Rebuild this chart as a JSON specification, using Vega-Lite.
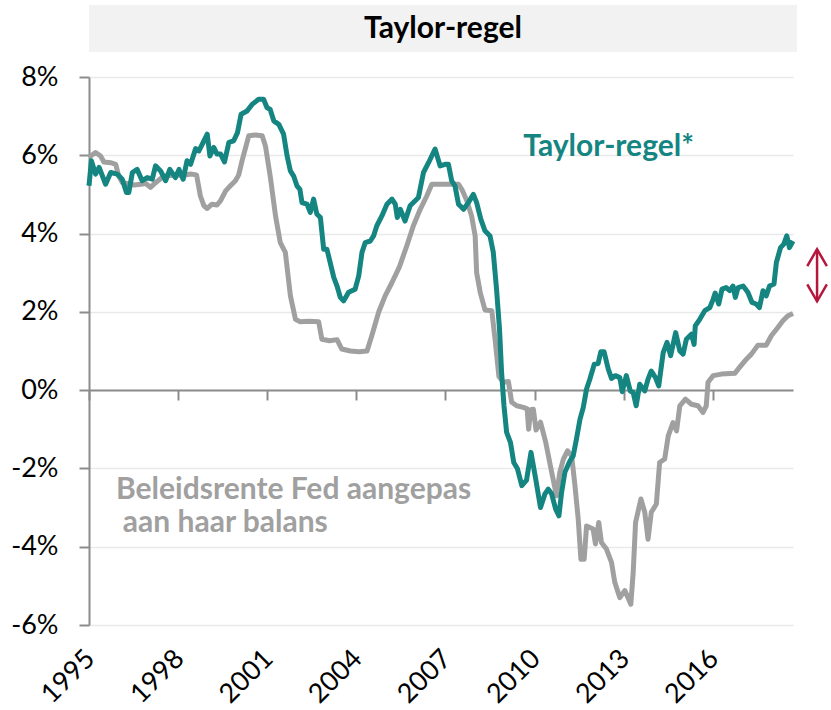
{
  "$schema": "https://vega.github.io/schema/vega-lite/v6.json",
  "padding": {"left": 10, "top": 5, "right": 0, "bottom": 0},
  "background": "white",
  "spacing": 11,
  "config": {"view": {"stroke": null}, "font": "Lato"},
  "datasets": {
    "series": [
      {"s":"Fed","t":1995.0,"v":5.95},{"s":"Fed","t":1995.22,"v":6.07},{"s":"Fed","t":1995.39,"v":5.98},{"s":"Fed","t":1995.5,"v":5.83},{"s":"Fed","t":1995.73,"v":5.81},{"s":"Fed","t":1995.9,"v":5.77},{"s":"Fed","t":1996.0,"v":5.47},{"s":"Fed","t":1996.12,"v":5.3},{"s":"Fed","t":1996.29,"v":5.28},{"s":"Fed","t":1996.51,"v":5.24},{"s":"Fed","t":1996.74,"v":5.26},{"s":"Fed","t":1996.91,"v":5.28},{"s":"Fed","t":1997.07,"v":5.18},{"s":"Fed","t":1997.24,"v":5.3},{"s":"Fed","t":1997.52,"v":5.47},{"s":"Fed","t":1997.86,"v":5.49},{"s":"Fed","t":1998.19,"v":5.49},{"s":"Fed","t":1998.42,"v":5.52},{"s":"Fed","t":1998.62,"v":5.5},{"s":"Fed","t":1998.75,"v":4.96},{"s":"Fed","t":1998.87,"v":4.71},{"s":"Fed","t":1998.98,"v":4.64},{"s":"Fed","t":1999.14,"v":4.75},{"s":"Fed","t":1999.31,"v":4.73},{"s":"Fed","t":1999.43,"v":4.84},{"s":"Fed","t":1999.6,"v":5.09},{"s":"Fed","t":1999.76,"v":5.22},{"s":"Fed","t":1999.93,"v":5.35},{"s":"Fed","t":2000.04,"v":5.5},{"s":"Fed","t":2000.15,"v":5.85},{"s":"Fed","t":2000.38,"v":6.5},{"s":"Fed","t":2000.6,"v":6.52},{"s":"Fed","t":2000.83,"v":6.5},{"s":"Fed","t":2000.94,"v":6.24},{"s":"Fed","t":2001.1,"v":5.47},{"s":"Fed","t":2001.28,"v":4.45},{"s":"Fed","t":2001.44,"v":3.77},{"s":"Fed","t":2001.61,"v":3.52},{"s":"Fed","t":2001.78,"v":2.41},{"s":"Fed","t":2001.95,"v":1.81},{"s":"Fed","t":2002.1,"v":1.75},{"s":"Fed","t":2002.4,"v":1.76},{"s":"Fed","t":2002.73,"v":1.75},{"s":"Fed","t":2002.84,"v":1.3},{"s":"Fed","t":2003.1,"v":1.26},{"s":"Fed","t":2003.35,"v":1.29},{"s":"Fed","t":2003.51,"v":1.05},{"s":"Fed","t":2003.8,"v":1.0},{"s":"Fed","t":2004.1,"v":0.98},{"s":"Fed","t":2004.36,"v":1.0},{"s":"Fed","t":2004.52,"v":1.39},{"s":"Fed","t":2004.75,"v":1.99},{"s":"Fed","t":2004.97,"v":2.41},{"s":"Fed","t":2005.2,"v":2.75},{"s":"Fed","t":2005.45,"v":3.15},{"s":"Fed","t":2005.7,"v":3.69},{"s":"Fed","t":2005.92,"v":4.2},{"s":"Fed","t":2006.15,"v":4.62},{"s":"Fed","t":2006.37,"v":4.96},{"s":"Fed","t":2006.54,"v":5.26},{"s":"Fed","t":2006.8,"v":5.26},{"s":"Fed","t":2007.1,"v":5.26},{"s":"Fed","t":2007.44,"v":5.26},{"s":"Fed","t":2007.55,"v":5.13},{"s":"Fed","t":2007.72,"v":4.84},{"s":"Fed","t":2007.88,"v":4.45},{"s":"Fed","t":2008.0,"v":3.94},{"s":"Fed","t":2008.05,"v":3.0},{"s":"Fed","t":2008.17,"v":2.5},{"s":"Fed","t":2008.33,"v":2.05},{"s":"Fed","t":2008.56,"v":2.03},{"s":"Fed","t":2008.67,"v":1.3},{"s":"Fed","t":2008.8,"v":0.35},{"s":"Fed","t":2008.95,"v":0.2},{"s":"Fed","t":2009.12,"v":0.22},{"s":"Fed","t":2009.23,"v":-0.31},{"s":"Fed","t":2009.4,"v":-0.4},{"s":"Fed","t":2009.62,"v":-0.44},{"s":"Fed","t":2009.75,"v":-0.48},{"s":"Fed","t":2009.8,"v":-1.0},{"s":"Fed","t":2009.87,"v":-0.5},{"s":"Fed","t":2009.96,"v":-0.49},{"s":"Fed","t":2010.05,"v":-1.02},{"s":"Fed","t":2010.2,"v":-0.82},{"s":"Fed","t":2010.38,"v":-1.35},{"s":"Fed","t":2010.55,"v":-2.0},{"s":"Fed","t":2010.74,"v":-2.7},{"s":"Fed","t":2010.85,"v":-2.1},{"s":"Fed","t":2010.97,"v":-1.76},{"s":"Fed","t":2011.11,"v":-1.55},{"s":"Fed","t":2011.25,"v":-1.68},{"s":"Fed","t":2011.36,"v":-2.44},{"s":"Fed","t":2011.47,"v":-3.3},{"s":"Fed","t":2011.56,"v":-4.32},{"s":"Fed","t":2011.67,"v":-4.32},{"s":"Fed","t":2011.75,"v":-3.47},{"s":"Fed","t":2011.97,"v":-3.55},{"s":"Fed","t":2012.05,"v":-3.93},{"s":"Fed","t":2012.16,"v":-3.38},{"s":"Fed","t":2012.25,"v":-3.89},{"s":"Fed","t":2012.42,"v":-4.06},{"s":"Fed","t":2012.59,"v":-4.4},{"s":"Fed","t":2012.7,"v":-4.91},{"s":"Fed","t":2012.87,"v":-5.3},{"s":"Fed","t":2013.04,"v":-5.12},{"s":"Fed","t":2013.24,"v":-5.47},{"s":"Fed","t":2013.32,"v":-4.66},{"s":"Fed","t":2013.4,"v":-3.38},{"s":"Fed","t":2013.58,"v":-2.78},{"s":"Fed","t":2013.71,"v":-3.12},{"s":"Fed","t":2013.82,"v":-3.81},{"s":"Fed","t":2013.93,"v":-3.12},{"s":"Fed","t":2014.1,"v":-2.91},{"s":"Fed","t":2014.21,"v":-1.85},{"s":"Fed","t":2014.38,"v":-1.76},{"s":"Fed","t":2014.5,"v":-1.17},{"s":"Fed","t":2014.66,"v":-0.83},{"s":"Fed","t":2014.78,"v":-1.04},{"s":"Fed","t":2014.89,"v":-0.4},{"s":"Fed","t":2015.08,"v":-0.23},{"s":"Fed","t":2015.28,"v":-0.36},{"s":"Fed","t":2015.5,"v":-0.4},{"s":"Fed","t":2015.67,"v":-0.57},{"s":"Fed","t":2015.78,"v":-0.4},{"s":"Fed","t":2015.84,"v":0.2},{"s":"Fed","t":2016.01,"v":0.37},{"s":"Fed","t":2016.29,"v":0.41},{"s":"Fed","t":2016.74,"v":0.43},{"s":"Fed","t":2016.9,"v":0.58},{"s":"Fed","t":2017.13,"v":0.79},{"s":"Fed","t":2017.3,"v":0.92},{"s":"Fed","t":2017.52,"v":1.15},{"s":"Fed","t":2017.8,"v":1.15},{"s":"Fed","t":2017.97,"v":1.39},{"s":"Fed","t":2018.19,"v":1.6},{"s":"Fed","t":2018.36,"v":1.77},{"s":"Fed","t":2018.53,"v":1.9},{"s":"Fed","t":2018.7,"v":1.96},
      {"s":"Taylor","t":1995.0,"v":5.22},{"s":"Taylor","t":1995.08,"v":5.86},{"s":"Taylor","t":1995.22,"v":5.52},{"s":"Taylor","t":1995.34,"v":5.69},{"s":"Taylor","t":1995.56,"v":5.26},{"s":"Taylor","t":1995.73,"v":5.56},{"s":"Taylor","t":1995.95,"v":5.52},{"s":"Taylor","t":1996.12,"v":5.39},{"s":"Taylor","t":1996.26,"v":5.05},{"s":"Taylor","t":1996.34,"v":5.05},{"s":"Taylor","t":1996.46,"v":5.56},{"s":"Taylor","t":1996.62,"v":5.64},{"s":"Taylor","t":1996.79,"v":5.35},{"s":"Taylor","t":1996.96,"v":5.43},{"s":"Taylor","t":1997.13,"v":5.39},{"s":"Taylor","t":1997.24,"v":5.73},{"s":"Taylor","t":1997.41,"v":5.6},{"s":"Taylor","t":1997.58,"v":5.35},{"s":"Taylor","t":1997.72,"v":5.64},{"s":"Taylor","t":1997.91,"v":5.43},{"s":"Taylor","t":1998.03,"v":5.64},{"s":"Taylor","t":1998.17,"v":5.39},{"s":"Taylor","t":1998.3,"v":5.86},{"s":"Taylor","t":1998.42,"v":5.77},{"s":"Taylor","t":1998.59,"v":6.17},{"s":"Taylor","t":1998.7,"v":6.11},{"s":"Taylor","t":1998.81,"v":6.28},{"s":"Taylor","t":1998.98,"v":6.54},{"s":"Taylor","t":1999.07,"v":5.98},{"s":"Taylor","t":1999.2,"v":6.2},{"s":"Taylor","t":1999.31,"v":6.03},{"s":"Taylor","t":1999.43,"v":6.03},{"s":"Taylor","t":1999.56,"v":5.83},{"s":"Taylor","t":1999.71,"v":6.33},{"s":"Taylor","t":1999.87,"v":6.37},{"s":"Taylor","t":2000.0,"v":6.58},{"s":"Taylor","t":2000.12,"v":7.05},{"s":"Taylor","t":2000.32,"v":7.13},{"s":"Taylor","t":2000.49,"v":7.3},{"s":"Taylor","t":2000.71,"v":7.43},{"s":"Taylor","t":2000.88,"v":7.43},{"s":"Taylor","t":2000.99,"v":7.22},{"s":"Taylor","t":2001.1,"v":7.17},{"s":"Taylor","t":2001.22,"v":6.88},{"s":"Taylor","t":2001.39,"v":6.79},{"s":"Taylor","t":2001.55,"v":6.54},{"s":"Taylor","t":2001.67,"v":5.98},{"s":"Taylor","t":2001.78,"v":5.6},{"s":"Taylor","t":2001.89,"v":5.47},{"s":"Taylor","t":2002.0,"v":5.22},{"s":"Taylor","t":2002.1,"v":5.13},{"s":"Taylor","t":2002.17,"v":4.79},{"s":"Taylor","t":2002.34,"v":4.75},{"s":"Taylor","t":2002.45,"v":4.54},{"s":"Taylor","t":2002.56,"v":4.88},{"s":"Taylor","t":2002.67,"v":4.5},{"s":"Taylor","t":2002.79,"v":4.41},{"s":"Taylor","t":2002.9,"v":3.6},{"s":"Taylor","t":2003.01,"v":3.6},{"s":"Taylor","t":2003.12,"v":3.26},{"s":"Taylor","t":2003.24,"v":2.88},{"s":"Taylor","t":2003.35,"v":2.66},{"s":"Taylor","t":2003.46,"v":2.37},{"s":"Taylor","t":2003.57,"v":2.28},{"s":"Taylor","t":2003.74,"v":2.5},{"s":"Taylor","t":2003.96,"v":2.58},{"s":"Taylor","t":2004.08,"v":2.92},{"s":"Taylor","t":2004.19,"v":3.52},{"s":"Taylor","t":2004.3,"v":3.77},{"s":"Taylor","t":2004.47,"v":3.81},{"s":"Taylor","t":2004.58,"v":3.94},{"s":"Taylor","t":2004.69,"v":4.2},{"s":"Taylor","t":2004.86,"v":4.45},{"s":"Taylor","t":2005.03,"v":4.75},{"s":"Taylor","t":2005.2,"v":4.88},{"s":"Taylor","t":2005.31,"v":4.75},{"s":"Taylor","t":2005.38,"v":4.41},{"s":"Taylor","t":2005.48,"v":4.62},{"s":"Taylor","t":2005.64,"v":4.32},{"s":"Taylor","t":2005.81,"v":4.71},{"s":"Taylor","t":2005.98,"v":4.84},{"s":"Taylor","t":2006.09,"v":4.92},{"s":"Taylor","t":2006.26,"v":5.56},{"s":"Taylor","t":2006.43,"v":5.81},{"s":"Taylor","t":2006.65,"v":6.16},{"s":"Taylor","t":2006.82,"v":5.73},{"s":"Taylor","t":2006.99,"v":5.77},{"s":"Taylor","t":2007.1,"v":5.77},{"s":"Taylor","t":2007.21,"v":5.35},{"s":"Taylor","t":2007.32,"v":5.22},{"s":"Taylor","t":2007.44,"v":4.75},{"s":"Taylor","t":2007.61,"v":4.62},{"s":"Taylor","t":2007.77,"v":4.79},{"s":"Taylor","t":2007.94,"v":5.0},{"s":"Taylor","t":2008.05,"v":4.79},{"s":"Taylor","t":2008.19,"v":4.37},{"s":"Taylor","t":2008.33,"v":4.07},{"s":"Taylor","t":2008.5,"v":3.94},{"s":"Taylor","t":2008.61,"v":3.52},{"s":"Taylor","t":2008.72,"v":2.58},{"s":"Taylor","t":2008.82,"v":1.56},{"s":"Taylor","t":2008.89,"v":0.45},{"s":"Taylor","t":2008.97,"v":-0.4},{"s":"Taylor","t":2009.06,"v":-1.08},{"s":"Taylor","t":2009.19,"v":-1.34},{"s":"Taylor","t":2009.3,"v":-1.85},{"s":"Taylor","t":2009.42,"v":-2.0},{"s":"Taylor","t":2009.57,"v":-2.44},{"s":"Taylor","t":2009.73,"v":-2.3},{"s":"Taylor","t":2009.88,"v":-1.59},{"s":"Taylor","t":2010.04,"v":-2.28},{"s":"Taylor","t":2010.2,"v":-3.0},{"s":"Taylor","t":2010.35,"v":-2.65},{"s":"Taylor","t":2010.46,"v":-2.53},{"s":"Taylor","t":2010.57,"v":-2.64},{"s":"Taylor","t":2010.71,"v":-3.04},{"s":"Taylor","t":2010.82,"v":-3.21},{"s":"Taylor","t":2010.91,"v":-2.61},{"s":"Taylor","t":2011.02,"v":-2.1},{"s":"Taylor","t":2011.19,"v":-1.81},{"s":"Taylor","t":2011.3,"v":-1.68},{"s":"Taylor","t":2011.41,"v":-1.25},{"s":"Taylor","t":2011.53,"v":-0.74},{"s":"Taylor","t":2011.64,"v":-0.44},{"s":"Taylor","t":2011.75,"v":0.03},{"s":"Taylor","t":2011.86,"v":0.28},{"s":"Taylor","t":2012.01,"v":0.66},{"s":"Taylor","t":2012.14,"v":0.68},{"s":"Taylor","t":2012.23,"v":0.98},{"s":"Taylor","t":2012.34,"v":0.98},{"s":"Taylor","t":2012.48,"v":0.54},{"s":"Taylor","t":2012.59,"v":0.3},{"s":"Taylor","t":2012.72,"v":0.37},{"s":"Taylor","t":2012.87,"v":0.32},{"s":"Taylor","t":2012.95,"v":-0.04},{"s":"Taylor","t":2013.09,"v":0.37},{"s":"Taylor","t":2013.22,"v":-0.02},{"s":"Taylor","t":2013.32,"v":-0.06},{"s":"Taylor","t":2013.42,"v":-0.4},{"s":"Taylor","t":2013.54,"v":0.15},{"s":"Taylor","t":2013.71,"v":-0.02},{"s":"Taylor","t":2013.82,"v":0.28},{"s":"Taylor","t":2013.93,"v":0.49},{"s":"Taylor","t":2014.07,"v":0.32},{"s":"Taylor","t":2014.18,"v":0.11},{"s":"Taylor","t":2014.33,"v":0.96},{"s":"Taylor","t":2014.46,"v":1.22},{"s":"Taylor","t":2014.58,"v":0.88},{"s":"Taylor","t":2014.75,"v":1.47},{"s":"Taylor","t":2014.89,"v":1.0},{"s":"Taylor","t":2015.0,"v":0.92},{"s":"Taylor","t":2015.11,"v":1.3},{"s":"Taylor","t":2015.28,"v":1.43},{"s":"Taylor","t":2015.37,"v":1.17},{"s":"Taylor","t":2015.41,"v":1.64},{"s":"Taylor","t":2015.56,"v":1.81},{"s":"Taylor","t":2015.73,"v":2.03},{"s":"Taylor","t":2015.9,"v":2.11},{"s":"Taylor","t":2016.01,"v":2.32},{"s":"Taylor","t":2016.08,"v":2.48},{"s":"Taylor","t":2016.2,"v":2.2},{"s":"Taylor","t":2016.31,"v":2.58},{"s":"Taylor","t":2016.45,"v":2.62},{"s":"Taylor","t":2016.57,"v":2.54},{"s":"Taylor","t":2016.68,"v":2.66},{"s":"Taylor","t":2016.76,"v":2.37},{"s":"Taylor","t":2016.85,"v":2.62},{"s":"Taylor","t":2017.02,"v":2.66},{"s":"Taylor","t":2017.18,"v":2.5},{"s":"Taylor","t":2017.32,"v":2.24},{"s":"Taylor","t":2017.46,"v":2.2},{"s":"Taylor","t":2017.57,"v":2.11},{"s":"Taylor","t":2017.69,"v":2.54},{"s":"Taylor","t":2017.8,"v":2.41},{"s":"Taylor","t":2017.91,"v":2.66},{"s":"Taylor","t":2018.06,"v":2.71},{"s":"Taylor","t":2018.14,"v":3.26},{"s":"Taylor","t":2018.28,"v":3.64},{"s":"Taylor","t":2018.39,"v":3.73},{"s":"Taylor","t":2018.49,"v":3.94},{"s":"Taylor","t":2018.58,"v":3.64},{"s":"Taylor","t":2018.7,"v":3.81}
    ],
    "arrow": [
      {"part":"top","i":0,"x":2019.18,"y":3.17},{"part":"top","i":1,"x":2019.51,"y":3.6},{"part":"top","i":2,"x":2019.84,"y":3.17},
      {"part":"stem","i":0,"x":2019.51,"y":3.6},{"part":"stem","i":1,"x":2019.51,"y":2.27},
      {"part":"bot","i":0,"x":2019.18,"y":2.7},{"part":"bot","i":1,"x":2019.51,"y":2.27},{"part":"bot","i":2,"x":2019.84,"y":2.7}
    ]
  },
  "vconcat": [
    {
      "width": 708,
      "height": 47,
      "view": {"fill": "#f2f2f2", "stroke": null},
      "data": {"values": [{"label": "Taylor-regel"}]},
      "mark": {"type": "text", "font": "Lato", "fontWeight": "bold", "fontSize": 30, "color": "#000000"},
      "encoding": {"text": {"field": "label"}}
    },
    {
      "width": 704,
      "height": 548,
      "resolve": {"axis": {"x": "independent"}},
      "layer": [
        {
          "data": {"name": "series"},
          "transform": [{"filter": "datum.s === 'Fed'"}],
          "mark": {"type": "line", "color": "#a0a0a0", "strokeWidth": 5, "strokeJoin": "round"},
          "encoding": {
            "x": {"field": "t", "type": "quantitative",
              "scale": {"domain": [1995, 2018.7], "nice": false, "zero": false},
              "axis": {"orient": "bottom", "offset": -235, "values": [1995, 1998, 2001, 2004, 2007, 2010, 2013, 2016], "labels": false, "grid": false, "domain": true, "domainColor": "#8c8c8c", "domainWidth": 2, "ticks": true, "tickColor": "#8c8c8c", "tickWidth": 2, "tickSize": 10, "title": null}},
            "y": {"field": "v", "type": "quantitative",
              "scale": {"domain": [-6, 8], "nice": false, "zero": false},
              "axis": {"values": [-6, -4, -2, 0, 2, 4, 6, 8], "labelExpr": "datum.value + '%'", "title": null, "grid": true, "gridColor": "#e9e9e9", "gridWidth": 1.5, "domainColor": "#8c8c8c", "domainWidth": 2, "tickColor": "#8c8c8c", "tickWidth": 2, "tickSize": 10, "labelPadding": 21, "labelFontSize": 27, "labelColor": "#000000", "labelFont": "Lato"}}
          }
        },
        {
          "data": {"name": "series"},
          "transform": [{"filter": "datum.s === 'Taylor'"}],
          "mark": {"type": "line", "color": "#148581", "strokeWidth": 5, "strokeJoin": "round"},
          "encoding": {
            "x": {"field": "t", "type": "quantitative",
              "axis": {"orient": "bottom", "values": [1995, 1998, 2001, 2004, 2007, 2010, 2013, 2016], "format": "d", "labelAngle": -45, "labelAlign": "right", "labelBaseline": "top", "labelFontSize": 27, "labelColor": "#000000", "labelFont": "Lato", "labelOffset": -8, "domain": false, "ticks": false, "tickSize": 0, "labelPadding": 20, "grid": false, "title": null}},
            "y": {"field": "v", "type": "quantitative"}
          }
        },
        {
          "data": {"values": [{}]},
          "mark": {"type": "text", "align": "left", "baseline": "alphabetic", "font": "Lato", "fontWeight": "bold", "fontSize": 30, "color": "#148581"},
          "encoding": {
            "x": {"datum": 2009.62, "type": "quantitative", "axis": null},
            "y": {"datum": 5.98, "type": "quantitative"},
            "text": {"value": "Taylor-regel*"}
          }
        },
        {
          "data": {"values": [{}]},
          "mark": {"type": "text", "align": "left", "baseline": "alphabetic", "font": "Lato", "fontWeight": "bold", "fontSize": 30, "color": "#a0a0a0"},
          "encoding": {
            "x": {"datum": 1995.91, "type": "quantitative", "axis": null},
            "y": {"datum": -2.78, "type": "quantitative"},
            "text": {"value": "Beleidsrente Fed aangepas"}
          }
        },
        {
          "data": {"values": [{}]},
          "mark": {"type": "text", "align": "left", "baseline": "alphabetic", "font": "Lato", "fontWeight": "bold", "fontSize": 30, "color": "#a0a0a0"},
          "encoding": {
            "x": {"datum": 1996.14, "type": "quantitative", "axis": null},
            "y": {"datum": -3.63, "type": "quantitative"},
            "text": {"value": "aan haar balans"}
          }
        },
        {
          "data": {"name": "arrow"},
          "mark": {"type": "line", "color": "#b5163c", "strokeWidth": 2.5},
          "encoding": {
            "x": {"field": "x", "type": "quantitative", "axis": null},
            "y": {"field": "y", "type": "quantitative"},
            "detail": {"field": "part"},
            "order": {"field": "i"}
          }
        }
      ]
    }
  ]
}
